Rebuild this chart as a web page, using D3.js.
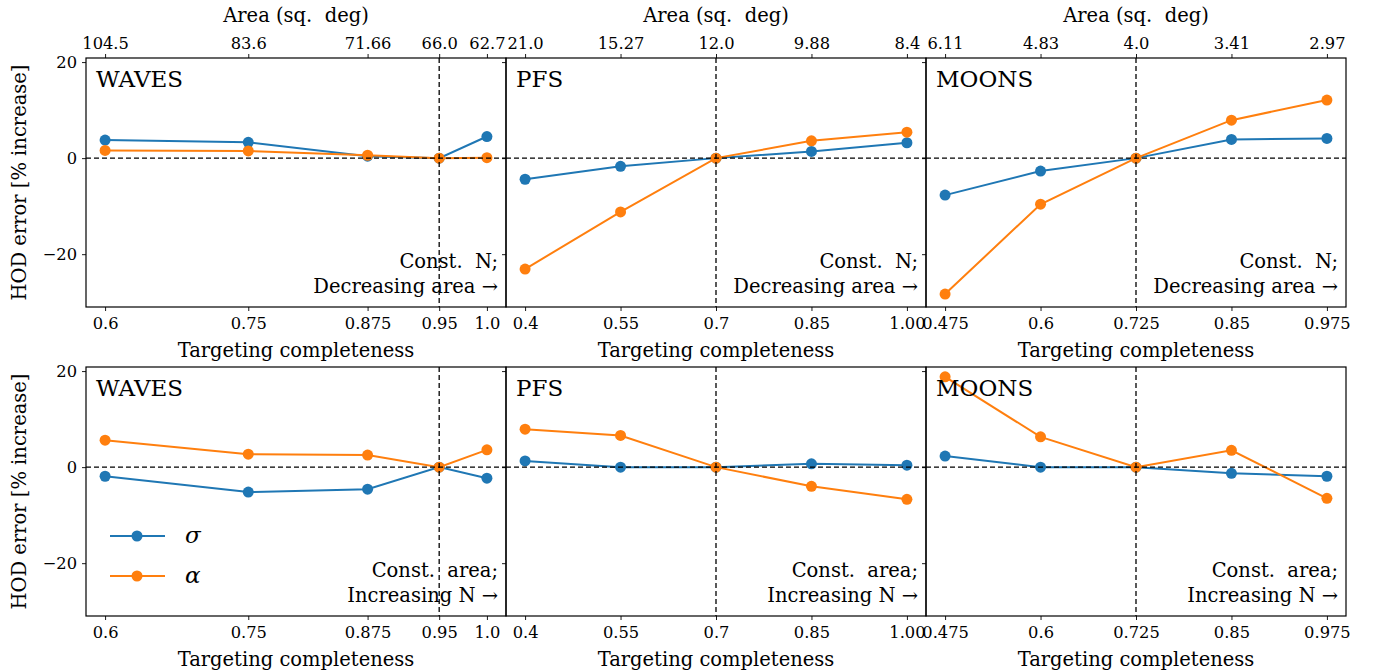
<!DOCTYPE html>
<html><head><meta charset="utf-8">
<script src="https://cdn.jsdelivr.net/npm/d3@7"></script>
<style>body{margin:0;background:#fff}svg{display:block}</style>
</head><body>
<svg id="c" width="1378" height="672"></svg>
<script>
// ---- data ----
const surveys = ["WAVES", "PFS", "MOONS"];
const completenessWAVES = [0.6, 0.75, 0.875, 0.95, 1.0];
const completenessPFS = [0.4, 0.55, 0.7, 0.85, 1.0];
const completenessMOONS = [0.475, 0.6, 0.725, 0.85, 0.975];
const completenessTickLabels = [["0.6","0.75","0.875","0.95","1.0"],["0.4","0.55","0.7","0.85","1.00"],["0.475","0.6","0.725","0.85","0.975"]];
const areaWAVES = ["104.5", "83.6", "71.66", "66.0", "62.7"];
const areaPFS = ["21.0", "15.27", "12.0", "9.88", "8.4"];
const areaMOONS = ["6.11", "4.83", "4.0", "3.41", "2.97"];
const referenceCompleteness = [0.95, 0.7, 0.725];
// top row: constant N, decreasing area
const sigmaConstN_WAVES = [3.75, 3.3, 0.4, 0.0, 4.5];
const alphaConstN_WAVES = [1.6, 1.5, 0.6, 0.0, 0.1];
const sigmaConstN_PFS = [-4.4, -1.7, 0.0, 1.4, 3.2];
const alphaConstN_PFS = [-23.1, -11.2, 0.0, 3.6, 5.4];
const sigmaConstN_MOONS = [-7.7, -2.7, 0.0, 3.9, 4.1];
const alphaConstN_MOONS = [-28.3, -9.6, 0.0, 7.9, 12.1];
// bottom row: constant area, increasing N
const sigmaConstA_WAVES = [-1.9, -5.2, -4.6, 0.0, -2.3];
const alphaConstA_WAVES = [5.6, 2.7, 2.5, 0.0, 3.6];
const sigmaConstA_PFS = [1.3, 0.0, 0.0, 0.7, 0.4];
const alphaConstA_PFS = [7.9, 6.6, 0.0, -4.0, -6.7];
const sigmaConstA_MOONS = [2.3, 0.0, 0.0, -1.3, -1.9];
const alphaConstA_MOONS = [18.8, 6.3, 0.0, 3.5, -6.5];
const yTicks = [20, 0, -20];
const seriesNames = ["\u03C3", "\u03B1"];
const colors = ["#1f77b4", "#ff7f0e"];

const completeness = [completenessWAVES, completenessPFS, completenessMOONS];
const areas = [areaWAVES, areaPFS, areaMOONS];
const rows = [
  {sig:[sigmaConstN_WAVES,sigmaConstN_PFS,sigmaConstN_MOONS], alp:[alphaConstN_WAVES,alphaConstN_PFS,alphaConstN_MOONS], note:["Const.\u00A0 N;","Decreasing area \u2192"], top:true},
  {sig:[sigmaConstA_WAVES,sigmaConstA_PFS,sigmaConstA_MOONS], alp:[alphaConstA_WAVES,alphaConstA_PFS,alphaConstA_MOONS], note:["Const.\u00A0 area;","Increasing N \u2192"], top:false}
];

// ---- layout ----
const FONT = '"DejaVu Serif", serif';
const svg = d3.select("#c");
const colX = [86, 506, 926], panelW = 420;
const rowY = [58, 367], panelH = 249;
const yDomain = [-31.0, 20.85];
const tickFont = 16.3, labelFont = 19.5;

function txt(sel, size) {
  return sel.style("font-family", FONT).style("font-size", size + "px").attr("fill", "#000");
}
function styleAxis(a) {
  a.select(".domain").remove();
  txt(a.selectAll("text"), tickFont);
  a.selectAll("line").attr("stroke", "#000").attr("stroke-width", 0.9);
}

rows.forEach((row, ri) => {
  const y0 = rowY[ri];
  const y = d3.scaleLinear().domain(yDomain).range([y0 + panelH, y0]);
  txt(svg.append("text").attr("transform", `translate(26,${y0 + panelH/2}) rotate(-90)`)
    .attr("text-anchor","middle"), labelFont).text("HOD error [% increase]");
  surveys.forEach((name, ci) => {
    const xs = completeness[ci];
    const span = xs[xs.length-1] - xs[0];
    const x = d3.scaleLinear().domain([xs[0]-0.05*span, xs[xs.length-1]+0.05*span]).range([colX[ci], colX[ci]+panelW]);
    const g = svg.append("g");
    const ya = g.append("g").attr("transform", `translate(${colX[ci]},0)`)
      .call(d3.axisLeft(y).tickValues(yTicks).tickSize(4).tickPadding(5).tickFormat(ci===0 ? (d => d<0 ? "\u2212"+(-d) : d) : ""));
    styleAxis(ya);
    const xa = g.append("g").attr("transform", `translate(0,${y0+panelH})`)
      .call(d3.axisBottom(x).tickValues(xs).tickSize(4).tickPadding(6).tickFormat((d,i)=>completenessTickLabels[ci][i]));
    styleAxis(xa);
    txt(svg.append("text").attr("x", colX[ci]+panelW/2).attr("y", y0+panelH+50).attr("text-anchor","middle"), labelFont)
      .text("Targeting completeness");
    if (row.top) {
      const xt = g.append("g").attr("transform", `translate(0,${y0})`)
        .call(d3.axisTop(x).tickValues(xs).tickSize(4).tickPadding(5).tickFormat((d,i)=>areas[ci][i]));
      styleAxis(xt);
      txt(svg.append("text").attr("x", colX[ci]+panelW/2).attr("y", y0-36).attr("text-anchor","middle"), labelFont)
        .text("Area (sq.\u00A0 deg)");
    }
    [row.sig[ci], row.alp[ci]].forEach((vals, si) => {
      const pts = xs.map((c,i)=>[c, vals[i]]);
      g.append("path").datum(pts).attr("fill","none").attr("stroke",colors[si]).attr("stroke-width",2)
        .attr("d", d3.line().x(d=>x(d[0])).y(d=>y(d[1])));
      g.selectAll(null).data(pts).enter().append("circle").attr("cx",d=>x(d[0])).attr("cy",d=>y(d[1])).attr("r",5.5).attr("fill",colors[si]);
    });
    g.append("line").attr("x1",colX[ci]).attr("x2",colX[ci]+panelW).attr("y1",y(0)).attr("y2",y(0))
      .attr("stroke","#000").attr("stroke-width",1.3).attr("stroke-dasharray","5,3");
    g.append("line").attr("x1",x(referenceCompleteness[ci])).attr("x2",x(referenceCompleteness[ci])).attr("y1",y0).attr("y2",y0+panelH)
      .attr("stroke","#000").attr("stroke-width",1.3).attr("stroke-dasharray","5,3");
    g.append("rect").attr("x",colX[ci]).attr("y",y0).attr("width",panelW).attr("height",panelH)
      .attr("fill","none").attr("stroke","#000").attr("stroke-width",1.2);
    txt(g.append("text").attr("x",colX[ci]+10).attr("y",y0+29), 23).text(name);
    txt(g.append("text").attr("x",colX[ci]+panelW-8).attr("y",y0+panelH-39).attr("text-anchor","end"), labelFont).text(row.note[0]);
    txt(g.append("text").attr("x",colX[ci]+panelW-8).attr("y",y0+panelH-14).attr("text-anchor","end"), labelFont).text(row.note[1]);
  });
});

const lg = svg.append("g");
seriesNames.forEach((n, i) => {
  const ly = 536 + i*40;
  lg.append("line").attr("x1",110).attr("x2",165).attr("y1",ly).attr("y2",ly).attr("stroke",colors[i]).attr("stroke-width",2);
  lg.append("circle").attr("cx",137).attr("cy",ly).attr("r",5.5).attr("fill",colors[i]);
  txt(lg.append("text").attr("x",185).attr("y",ly+7), 23).style("font-style","italic").text(n);
});
</script>
</body></html>
